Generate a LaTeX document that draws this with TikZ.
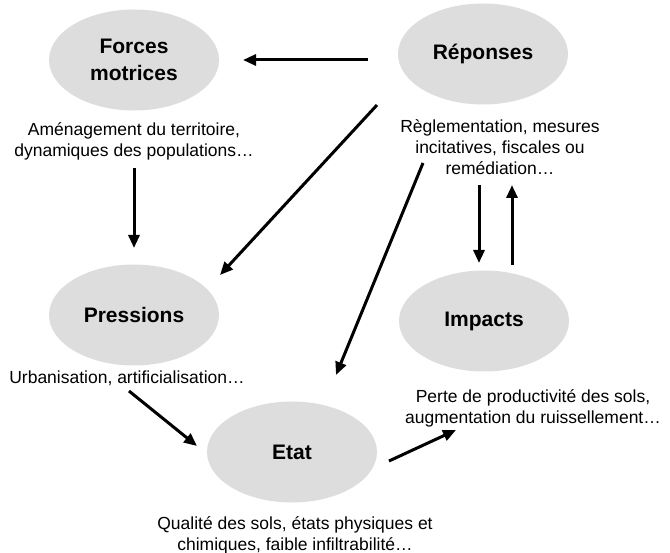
\documentclass[tikz,border=0pt]{standalone}
\usepackage{fontspec}
\setmainfont{Liberation Sans}
\usepackage{xcolor}
\usetikzlibrary{arrows.meta,shapes.geometric}

\definecolor{bubblegray}{HTML}{DDDDDD}
\newcommand{\titlefont}{\fontsize{21}{27}\selectfont\bfseries}
\newcommand{\bodyfont}{\fontsize{17.5}{21}\selectfont}

\begin{document}
\begin{tikzpicture}[x=1pt, y=-1pt, >={Triangle[length=13pt,width=11pt]},
    bubble/.style={ellipse, fill=bubblegray, minimum width=170pt, minimum height=101pt, inner sep=0pt, align=center, font=\titlefont},
    caption/.style={align=center, font=\bodyfont, inner sep=0pt},
    flow/.style={->, line width=3pt}]
        \useasboundingbox (0,0) rectangle (670,553);

        \node[bubble] (forces) at (134,60) {Forces\\motrices};
        \node[bubble] (reponses) at (483,54) {Réponses};
        \node[bubble] (pressions) at (134,315) {Pressions};
        \node[bubble] (impacts) at (484,321) {Impacts};
        \node[bubble] (etat) at (292,452) {Etat};

        \node[caption] (forcestxt) at (134,141) {Aménagement du territoire,\\dynamiques des populations…};
        \node[caption] (reponsestxt) at (500,147) {Règlementation, mesures\\incitatives, fiscales ou\\remédiation…};
        \node[caption] (pressionstxt) at (127,378) {Urbanisation, artificialisation…};
        \node[caption] (impactstxt) at (533,408) {Perte de productivité des sols,\\augmentation du ruissellement…};
        \node[caption] (etattxt) at (295,535) {Qualité des sols, états physiques et\\chimiques, faible infiltrabilité…};

        \coordinate (repout) at (368,60);
        \coordinate (forin) at (243,60);
        \coordinate (repdiag) at (377,105);
        \coordinate (presin) at (220,275);
        \coordinate (repsteep) at (423,163);
        \coordinate (etatin) at (336,375);
        \coordinate (forout) at (134,168);
        \coordinate (presfrom) at (134,248);
        \coordinate (repdown) at (479,185);
        \coordinate (impin) at (479,263);
        \coordinate (impout) at (512,265);
        \coordinate (repup) at (512,185);
        \coordinate (presout) at (129,391);
        \coordinate (etatleft) at (197,446);
        \coordinate (etatout) at (389,461);
        \coordinate (impbelow) at (456,430);

        \draw[flow] (repout) -- (forin);
        \draw[flow] (repdiag) -- (presin);
        \draw[flow] (repsteep) -- (etatin);
        \draw[flow] (forout) -- (presfrom);
        \draw[flow] (repdown) -- (impin);
        \draw[flow] (impout) -- (repup);
        \draw[flow] (presout) -- (etatleft);
        \draw[flow] (etatout) -- (impbelow);
\end{tikzpicture}
\end{document}
